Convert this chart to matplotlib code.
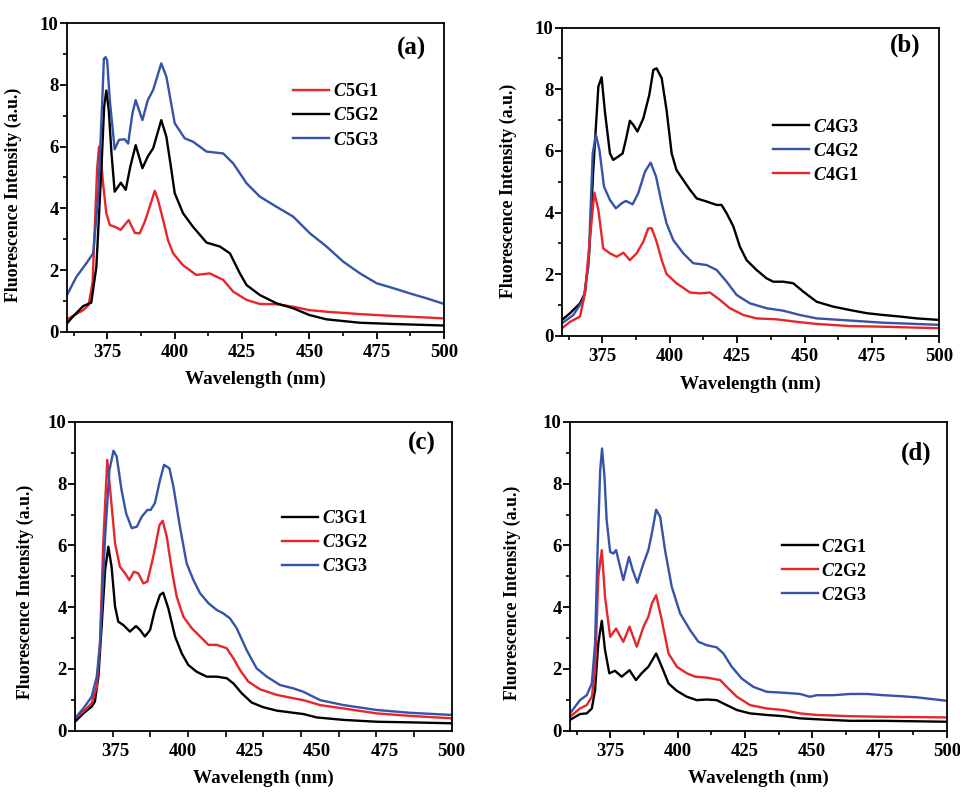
import numpy as np
import matplotlib
matplotlib.use("Agg")
import matplotlib.pyplot as plt
from matplotlib.ticker import MultipleLocator, FixedLocator

# fonts: Times-like bold, italic bold "C" in the legend through mathtext
plt.rcParams['font.family'] = ['Liberation Serif', 'DejaVu Serif']
plt.rcParams['font.weight'] = 'bold'
plt.rcParams['mathtext.fontset'] = 'custom'
plt.rcParams['mathtext.it'] = 'Liberation Serif:italic:bold'
plt.rcParams['mathtext.rm'] = 'Liberation Serif:bold'

RED = '#e8262a'
BLUE = '#3553a8'
BLACK = '#000000'

# ---- panel (a) ----
a_c5g1_x = [360, 363, 366, 368, 369.5, 370.5, 371.2, 371.9, 372.6, 373.4, 374.6, 375.9, 378.3, 379.9,
            382.9, 385.2, 387, 388.9, 390.7, 392.6, 393.8, 395.7, 397.5, 399.4, 403, 408, 413, 418,
            421.7, 426.7, 431.6, 437.8, 444, 450, 456, 468.8, 481, 493.6, 500]
a_c5g1_y = [0.40, 0.55, 0.70, 0.86, 1.6, 3.8, 5.3, 6.0, 5.6, 4.8, 3.84, 3.46, 3.38, 3.30,
            3.62, 3.20, 3.19, 3.57, 4.05, 4.57, 4.27, 3.62, 2.97, 2.54, 2.16, 1.84, 1.89, 1.68,
            1.30, 1.03, 0.90, 0.89, 0.81, 0.70, 0.65, 0.57, 0.51, 0.46, 0.43]
a_c5g2_x = [360, 362.2, 366, 369, 370.9, 372.8, 373.8, 374.6, 375.5, 376.5, 377.7, 380, 381.8, 383.5,
            385.5, 388, 390, 392, 395, 396.9, 398.5, 400, 403.1, 406.8, 411.8, 416.8, 420.5, 424.2,
            426.7, 431.6, 437.8, 444, 450, 456.4, 468.8, 481.2, 500]
a_c5g2_y = [0.27, 0.49, 0.83, 0.94, 2.1, 5.35, 7.3, 7.82, 7.2, 5.8, 4.54, 4.83, 4.6, 5.35,
            6.05, 5.3, 5.68, 5.95, 6.86, 6.32, 5.4, 4.49, 3.84, 3.40, 2.89, 2.76, 2.54, 1.89,
            1.51, 1.19, 0.92, 0.76, 0.54, 0.40, 0.29, 0.25, 0.20]
a_c5g3_x = [360, 363.5, 367.2, 369.7, 371.5, 373.1, 373.7, 374.3, 374.9, 375.9, 377.7, 379.3, 381.4,
            382.7, 384.3, 385.5, 388, 390, 392, 395, 396.9, 400, 403.7, 406.8, 411.8, 418, 421.7,
            426.7, 431.6, 437.8, 444, 450.2, 456.4, 462.6, 468.8, 475, 481.2, 487.4, 493.6, 500]
a_c5g3_y = [1.19, 1.78, 2.22, 2.54, 4.27, 7.5, 8.85, 8.9, 8.8, 7.5, 5.91, 6.22, 6.24,
            6.10, 7.08, 7.51, 6.86, 7.51, 7.84, 8.70, 8.27, 6.76, 6.27, 6.16, 5.84, 5.78, 5.46,
            4.81, 4.38, 4.05, 3.73, 3.19, 2.76, 2.27, 1.89, 1.57, 1.41, 1.24, 1.08, 0.90]

# ---- panel (b) ----
b_c4g3_x = [360, 363, 366.7, 368.5, 370.1, 371.6, 373.5, 374.7, 376, 377.8, 379, 380.9, 382.5, 383.7,
            385.2, 386.5, 388, 390.2, 392.4, 393.9, 395.1, 397, 398.8, 400.7, 402.5, 405, 407.5, 410,
            413.7, 417.4, 419.2, 421.1, 423.6, 426, 428.5, 432.2, 435.9, 438.4, 442.1, 445.8, 449.5,
            454.5, 460.7, 466.9, 473, 479.2, 485.4, 491.6, 500]
b_c4g3_y = [0.52, 0.74, 1.06, 1.38, 2.68, 5.38, 8.09, 8.39, 7.22, 5.92, 5.71, 5.82, 5.92, 6.36,
            6.98, 6.84, 6.63, 7.06, 7.82, 8.63, 8.68, 8.36, 7.33, 5.92, 5.38, 5.06, 4.74, 4.46,
            4.36, 4.25, 4.25, 3.98, 3.55, 2.90, 2.46, 2.14, 1.87, 1.76, 1.76, 1.71, 1.44,
            1.11, 0.95, 0.84, 0.74, 0.68, 0.63, 0.57, 0.52]
b_c4g2_x = [360, 364.2, 367.9, 369.8, 371.4, 372.6, 373.9, 375.6, 377.8, 380, 382.1, 383.7, 386.2,
            388.3, 390.8, 392.9, 394.9, 397, 398.8, 401.3, 405, 408.7, 413.7, 417.4, 421.1, 424.8,
            429.7, 435.9, 442.1, 448.3, 454.5, 466.9, 479.2, 500]
b_c4g2_y = [0.41, 0.68, 1.17, 2.25, 5.92, 6.52, 6.03, 4.84, 4.41, 4.14, 4.30, 4.38, 4.27,
            4.63, 5.33, 5.62, 5.17, 4.30, 3.65, 3.11, 2.68, 2.36, 2.30, 2.14, 1.76, 1.33,
            1.06, 0.90, 0.82, 0.68, 0.57, 0.50, 0.43, 0.36]
b_c4g1_x = [360, 363, 366.7, 368.5, 370.1, 372, 373.5, 375.3, 377.8, 380.3, 382.8, 385.2, 387.7,
            390.2, 392, 393.3, 395.1, 397, 398.8, 402.5, 407.5, 411.2, 414.9, 418.6, 422.3, 427.3,
            432.2, 439.6, 447, 454.5, 466.9, 479.2, 500]
b_c4g1_y = [0.25, 0.46, 0.63, 1.38, 2.90, 4.65, 4.09, 2.84, 2.68, 2.57, 2.70, 2.46, 2.68,
            3.06, 3.49, 3.49, 3.06, 2.46, 2.01, 1.71, 1.41, 1.38, 1.41, 1.17, 0.90, 0.68,
            0.57, 0.54, 0.46, 0.39, 0.32, 0.30, 0.25]

# ---- panel (c) ----
c_c3g1_x = [360, 363.1, 366.2, 367.4, 368.7, 369.9, 371.2, 372.4, 373.6, 374.9, 376.1, 378, 380.4,
            382.7, 384.2, 386, 387.9, 389.7, 391.6, 392.8, 394.7, 397.2, 399.7, 402.1, 405.2, 409,
            412.7, 416.4, 418.9, 422, 425.7, 430, 435, 441.2, 444.9, 449.8, 459.8, 472.2, 484.6, 500]
c_c3g1_y = [0.29, 0.56, 0.78, 0.94, 1.75, 3.37, 5.20, 5.96, 5.31, 4.02, 3.53, 3.42, 3.21,
            3.39, 3.26, 3.05, 3.26, 3.91, 4.40, 4.47, 3.96, 3.05, 2.50, 2.13, 1.91, 1.75,
            1.75, 1.70, 1.53, 1.21, 0.91, 0.76, 0.65, 0.58, 0.54, 0.43, 0.35, 0.29, 0.27, 0.24]
c_c3g2_x = [360, 363.1, 366.2, 368.1, 369.3, 370.5, 372, 373.2, 374.9, 376.7, 378.6, 380.2, 381.9,
            383.5, 385.4, 386.9, 389.1, 391.4, 392.6, 394.1, 396, 397.8, 400.3, 403.4, 406.5, 409.6,
            412.7, 416.4, 418.9, 421.3, 424.4, 428.8, 435, 441.2, 444.9, 451.1, 459.8, 472.2, 484.6, 500]
c_c3g2_y = [0.40, 0.62, 0.89, 1.43, 2.83, 6.07, 8.77, 7.69, 6.07, 5.31, 5.10, 4.88, 5.15,
            5.10, 4.77, 4.83, 5.64, 6.66, 6.80, 6.29, 5.20, 4.34, 3.69, 3.32, 3.05, 2.78,
            2.78, 2.67, 2.34, 1.97, 1.59, 1.34, 1.16, 1.05, 0.99, 0.83, 0.72, 0.56, 0.48, 0.40]
c_c3g3_x = [360, 363.1, 366.2, 368.1, 369.3, 371.2, 372.8, 373.6, 374.3, 375.5, 377.3, 379, 381.1,
            383, 384.8, 386.9, 388.1, 389.7, 391.6, 393.1, 395.1, 396.6, 399, 401.5, 404, 406.5,
            409.6, 412.7, 415.1, 417.6, 420.1, 423.8, 427.5, 431.3, 436.2, 441.2, 444.9, 451.1,
            459.8, 472.2, 484.6, 500]
c_c3g3_y = [0.40, 0.72, 1.10, 1.75, 2.83, 6.29, 8.44, 8.77, 9.07, 8.88, 7.80, 7.04, 6.56,
            6.61, 6.93, 7.15, 7.15, 7.37, 8.12, 8.61, 8.50, 7.90, 6.61, 5.42, 4.88, 4.45,
            4.13, 3.91, 3.80, 3.64, 3.32, 2.61, 2.02, 1.75, 1.48, 1.37, 1.26, 0.99,
            0.83, 0.67, 0.58, 0.51]

# ---- panel (d) ----
d_c2g1_x = [360, 363.7, 366.2, 368.1, 369.3, 370.5, 371.8, 373, 374.6, 376.7, 379.2, 382.1, 384.5,
            386.6, 389.1, 392, 394.1, 396.6, 399.7, 403.4, 407.1, 410.8, 414.5, 418.2, 422, 426.9,
            433.1, 439.3, 445.5, 451.7, 464.1, 476.5, 500]
d_c2g1_y = [0.35, 0.54, 0.56, 0.72, 1.32, 2.83, 3.56, 2.61, 1.86, 1.94, 1.75, 1.96, 1.64,
            1.86, 2.07, 2.50, 2.07, 1.53, 1.29, 1.10, 0.99, 1.01, 0.99, 0.83, 0.67, 0.56,
            0.51, 0.47, 0.40, 0.37, 0.32, 0.32, 0.29]
d_c2g2_x = [360, 363.7, 366.2, 368.1, 369.3, 370.5, 371.8, 373, 374.9, 377.1, 379.8, 382.1, 384.8,
            387.3, 389.1, 390.4, 392, 394.1, 396.6, 399.7, 403.4, 406.5, 410.8, 415.8, 418.2, 422,
            426.9, 433.1, 439.3, 445.5, 451.7, 464.1, 476.5, 500]
d_c2g2_y = [0.45, 0.72, 0.83, 1.10, 1.96, 4.98, 5.85, 4.34, 3.04, 3.31, 2.88, 3.37, 2.72,
            3.37, 3.69, 4.12, 4.39, 3.58, 2.50, 2.07, 1.86, 1.75, 1.72, 1.64, 1.42, 1.10,
            0.83, 0.72, 0.67, 0.56, 0.51, 0.47, 0.45, 0.43]
d_c2g3_x = [360, 363.7, 366.2, 368.1, 369.3, 370.3, 371.2, 371.9, 372.8, 373.6, 374.9, 376.1, 377.1,
            378.6, 379.8, 381.9, 383.3, 385, 387.3, 389.1, 390.4, 392, 393.5, 395.3, 397.8, 400.9,
            404.6, 407.7, 410.8, 414.5, 417, 420.1, 423.8, 428.1, 433.1, 439.3, 445.5, 449.1,
            451.7, 457.9, 464.1, 470.3, 476.5, 482.7, 488.9, 500]
d_c2g3_y = [0.56, 0.99, 1.15, 1.53, 2.83, 6.06, 8.44, 9.14, 8.22, 6.82, 5.79, 5.74, 5.85,
            5.31, 4.88, 5.63, 5.20, 4.79, 5.42, 5.85, 6.39, 7.16, 6.93, 5.85, 4.66, 3.80,
            3.26, 2.88, 2.77, 2.70, 2.50, 2.07, 1.69, 1.42, 1.26, 1.23, 1.19, 1.10,
            1.15, 1.15, 1.19, 1.19, 1.15, 1.12, 1.08, 0.97]

x_major = [375, 400, 425, 450, 475, 500]

fig = plt.figure(figsize=(9.6, 7.92), dpi=100)

ax_a = fig.add_axes([0.0698, 0.5812, 0.3927, 0.3894])
ax_b = fig.add_axes([0.5854, 0.5758, 0.3930, 0.3893])
ax_c = fig.add_axes([0.0781, 0.0774, 0.3924, 0.3898])
ax_d = fig.add_axes([0.5938, 0.0774, 0.3924, 0.3898])


def style(ax, tag, tag_xy, ylab_xy, odd_ticks=False):
    ax.set_xlim(360, 500)
    ax.set_ylim(0, 10)
    for s in ax.spines.values():
        s.set_linewidth(1.3)
    ax.yaxis.set_major_locator(MultipleLocator(2))
    ax.yaxis.set_minor_locator(MultipleLocator(1))
    ax.xaxis.set_major_locator(FixedLocator(x_major))
    if odd_ticks:
        # panel (c) has its tick marks every 14 nm, not at the labels
        ax.xaxis.set_minor_locator(FixedLocator(np.arange(374, 501, 14)))
        ax.tick_params(axis='x', which='major', length=0, pad=9)
        ax.tick_params(axis='x', which='minor', length=4, width=1.2)
    else:
        ax.xaxis.set_minor_locator(MultipleLocator(12.5))
        ax.tick_params(axis='x', which='major', length=5, width=1.3, pad=4)
        ax.tick_params(axis='x', which='minor', length=3, width=1.2)
    ax.tick_params(axis='y', which='major', length=5, width=1.3, pad=1)
    ax.tick_params(axis='y', which='minor', length=3, width=1.2)
    ax.tick_params(axis='both', which='both', direction='out', labelsize=13.5)
    ax.set_xlabel('Wavelength (nm)', fontsize=13.8, fontweight='bold', labelpad=7)
    ax.set_ylabel('Fluorescence Intensity (a.u.)', fontsize=12.8, fontweight='bold')
    ax.yaxis.set_label_coords(*ylab_xy)
    ax.text(tag_xy[0], tag_xy[1], tag, transform=ax.transAxes, fontsize=18,
            fontweight='bold', ha='center', va='center')


def legend(ax, anchor):
    ax.legend(loc='upper left', bbox_to_anchor=anchor, frameon=False, fontsize=13,
              handlelength=2.0, handletextpad=0.2, labelspacing=0.39, borderpad=0,
              borderaxespad=0)


lw = 1.7

ax_a.plot(a_c5g1_x, a_c5g1_y, color=RED, lw=lw, label=r'$\mathit{C}$5G1')
ax_a.plot(a_c5g2_x, a_c5g2_y, color=BLACK, lw=lw, label=r'$\mathit{C}$5G2')
ax_a.plot(a_c5g3_x, a_c5g3_y, color=BLUE, lw=lw, label=r'$\mathit{C}$5G3')
style(ax_a, '(a)', (0.914, 0.92), (-0.12, 0.445))
legend(ax_a, (0.60, 0.805))

ax_b.plot(b_c4g3_x, b_c4g3_y, color=BLACK, lw=lw, label=r'$\mathit{C}$4G3')
ax_b.plot(b_c4g2_x, b_c4g2_y, color=BLUE, lw=lw, label=r'$\mathit{C}$4G2')
ax_b.plot(b_c4g1_x, b_c4g1_y, color=RED, lw=lw, label=r'$\mathit{C}$4G1')
style(ax_b, '(b)', (0.909, 0.944), (-0.12, 0.47))
legend(ax_b, (0.559, 0.705))

ax_c.plot(c_c3g1_x, c_c3g1_y, color=BLACK, lw=lw, label=r'$\mathit{C}$3G1')
ax_c.plot(c_c3g2_x, c_c3g2_y, color=RED, lw=lw, label=r'$\mathit{C}$3G2')
ax_c.plot(c_c3g3_x, c_c3g3_y, color=BLUE, lw=lw, label=r'$\mathit{C}$3G3')
style(ax_c, '(c)', (0.92, 0.931), (-0.11, 0.45), odd_ticks=True)
legend(ax_c, (0.549, 0.715))

ax_d.plot(d_c2g1_x, d_c2g1_y, color=BLACK, lw=lw, label=r'$\mathit{C}$2G1')
ax_d.plot(d_c2g2_x, d_c2g2_y, color=RED, lw=lw, label=r'$\mathit{C}$2G2')
ax_d.plot(d_c2g3_x, d_c2g3_y, color=BLUE, lw=lw, label=r'$\mathit{C}$2G3')
style(ax_d, '(d)', (0.92, 0.898), (-0.13, 0.445))
legend(ax_d, (0.562, 0.622))

fig.savefig('out.png', dpi=100)
